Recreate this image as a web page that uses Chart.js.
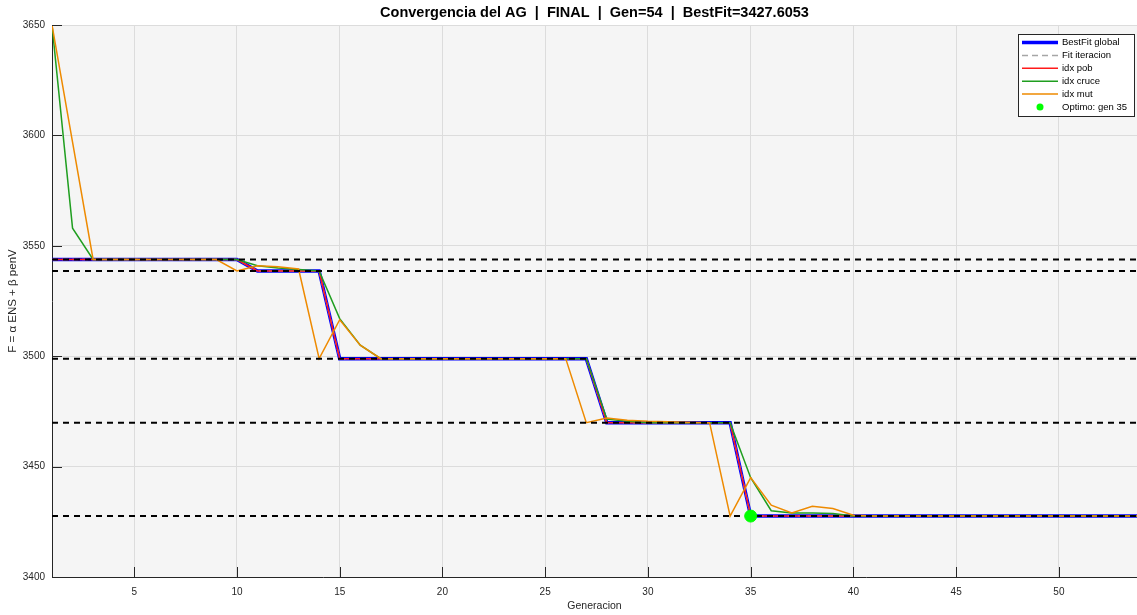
<!DOCTYPE html>
<html>
<head>
<meta charset="utf-8">
<script src="https://cdn.jsdelivr.net/npm/chart.js@4.4.0/dist/chart.umd.min.js"></script>
<style>
  html, body { margin: 0; padding: 0; background: #fff; }
</style>
</head>
<body>
<canvas id="myChart" width="1137" height="615"></canvas>
<script>
// generaciones del AG
const generaciones = [1, 2, 3, 4, 5, 6, 7, 8, 9, 10, 11, 12, 13, 14, 15, 16, 17, 18, 19, 20,
  21, 22, 23, 24, 25, 26, 27, 28, 29, 30, 31, 32, 33, 34, 35, 36, 37, 38, 39, 40,
  41, 42, 43, 44, 45, 46, 47, 48, 49, 50, 51, 52, 53, 54];

const bestFitGlobal = [3543.8, 3543.8, 3543.8, 3543.8, 3543.8, 3543.8, 3543.8, 3543.8, 3543.8, 3543.8,
  3538.6, 3538.6, 3538.6, 3538.6,
  3498.9, 3498.9, 3498.9, 3498.9, 3498.9, 3498.9, 3498.9, 3498.9, 3498.9, 3498.9, 3498.9, 3498.9, 3498.9,
  3469.9, 3469.9, 3469.9, 3469.9, 3469.9, 3469.9, 3469.9,
  3427.6053, 3427.6053, 3427.6053, 3427.6053, 3427.6053, 3427.6053, 3427.6053, 3427.6053, 3427.6053, 3427.6053,
  3427.6053, 3427.6053, 3427.6053, 3427.6053, 3427.6053, 3427.6053, 3427.6053, 3427.6053, 3427.6053, 3427.6053];

const fitIteracion = [3543.8, 3543.8, 3543.8, 3543.8, 3543.8, 3543.8, 3543.8, 3543.8, 3543.8, 3543.8,
  3538.6, 3538.6, 3538.6, 3538.6,
  3498.9, 3498.9, 3498.9, 3498.9, 3498.9, 3498.9, 3498.9, 3498.9, 3498.9, 3498.9, 3498.9, 3498.9, 3498.9,
  3469.9, 3469.9, 3469.9, 3469.9, 3469.9, 3469.9, 3469.9,
  3427.6053, 3427.6053, 3427.6053, 3427.6053, 3427.6053, 3427.6053, 3427.6053, 3427.6053, 3427.6053, 3427.6053,
  3427.6053, 3427.6053, 3427.6053, 3427.6053, 3427.6053, 3427.6053, 3427.6053, 3427.6053, 3427.6053, 3427.6053];

const idxPob = [3543.8, 3543.8, 3543.8, 3543.8, 3543.8, 3543.8, 3543.8, 3543.8, 3543.8, 3543.8,
  3538.6, 3538.6, 3538.6, 3538.6,
  3498.9, 3498.9, 3498.9, 3498.9, 3498.9, 3498.9, 3498.9, 3498.9, 3498.9, 3498.9, 3498.9, 3498.9, 3498.9,
  3469.9, 3469.9, 3469.9, 3469.9, 3469.9, 3469.9, 3469.9,
  3427.6053, 3427.6053, 3427.6053, 3427.6053, 3427.6053, 3427.6053, 3427.6053, 3427.6053, 3427.6053, 3427.6053,
  3427.6053, 3427.6053, 3427.6053, 3427.6053, 3427.6053, 3427.6053, 3427.6053, 3427.6053, 3427.6053, 3427.6053];

const idxCruce = [3650, 3558, 3543.8, 3543.8, 3543.8, 3543.8, 3543.8, 3543.8, 3543.8, 3543.8,
  3541, 3540, 3539.3, 3538.6,
  3517, 3505, 3498.9, 3498.9, 3498.9, 3498.9, 3498.9, 3498.9, 3498.9, 3498.9, 3498.9, 3498.9, 3498.9,
  3471.5, 3470.5, 3469.9, 3469.9, 3469.9, 3469.9, 3469.9,
  3445, 3430, 3429, 3429, 3428.8, 3427.6053,
  3427.6053, 3427.6053, 3427.6053, 3427.6053, 3427.6053, 3427.6053, 3427.6053, 3427.6053, 3427.6053, 3427.6053,
  3427.6053, 3427.6053, 3427.6053, 3427.6053];

const idxMut = [3650, 3597, 3543.8, 3543.8, 3543.8, 3543.8, 3543.8, 3543.8, 3543.8, 3538.6,
  3541, 3540.5, 3539.5, 3498.9,
  3516.5, 3505, 3498.9, 3498.9, 3498.9, 3498.9, 3498.9, 3498.9, 3498.9, 3498.9, 3498.9, 3498.9,
  3469.9, 3472, 3471, 3470.5, 3470.3, 3470.1, 3469.9, 3427.6053,
  3445, 3432.5, 3429, 3432, 3431, 3428,
  3427.6053, 3427.6053, 3427.6053, 3427.6053, 3427.6053, 3427.6053, 3427.6053, 3427.6053, 3427.6053, 3427.6053,
  3427.6053, 3427.6053, 3427.6053, 3427.6053];

// mejores valores distintos (lineas horizontales)
const nivelesBest = [3543.8, 3538.6, 3498.9, 3469.9, 3427.6053];
const optimoGen = 35;
const optimoFit = 3427.6053;

const xTicks = [5, 10, 15, 20, 25, 30, 35, 40, 45, 50];
const yTicks = [3400, 3450, 3500, 3550, 3600, 3650];

const FONT = '"Liberation Sans", Arial, Helvetica, sans-serif';

const datasets = [
  { label: 'BestFit global', data: bestFitGlobal, borderColor: '#0000ff', borderWidth: 3.5, order: 8 },
  { label: 'Fit iteracion', data: fitIteracion, borderColor: '#a6a6a6', borderWidth: 1.5, borderDash: [6, 4], order: 7 },
  { label: 'idx pob', data: idxPob, borderColor: '#ff1a1a', borderWidth: 1.5, order: 6 },
  { label: 'idx cruce', data: idxCruce, borderColor: '#1f9e1f', borderWidth: 1.5, order: 5 },
  { label: 'idx mut', data: idxMut, borderColor: '#ee8a00', borderWidth: 1.5, order: 4 }
];
nivelesBest.forEach(function (v) {
  datasets.push({
    data: [{ x: generaciones[0], y: v }, { x: generaciones[generaciones.length - 1], y: v }],
    borderColor: '#000', borderWidth: 2, borderDash: [6, 5], order: 2
  });
});
datasets.push({
  label: 'Optimo: gen ' + optimoGen, data: [{ x: optimoGen, y: optimoFit }],
  showLine: false, pointRadius: 6, pointBackgroundColor: '#00ff00', pointBorderColor: '#00ff00',
  borderColor: '#00ff00', order: 1, isPoint: true
});
datasets.forEach(function (d) {
  if (!d.isPoint) { d.pointRadius = 0; d.fill = false; d.tension = 0; }
});

// fondo gris, ticks hacia dentro y leyenda con caja
const matlabPlugin = {
  id: 'matlabStyle',
  beforeDraw(chart) {
    const a = chart.chartArea, ctx = chart.ctx;
    ctx.save();
    ctx.fillStyle = '#f5f5f5';
    ctx.fillRect(a.left, a.top, a.right - a.left, a.bottom - a.top);
    ctx.restore();
  },
  afterDraw(chart) {
    const a = chart.chartArea, ctx = chart.ctx;
    ctx.save();
    ctx.strokeStyle = '#262626';
    ctx.lineWidth = 1;
    chart.scales.x.ticks.forEach(function (t) {
      const px = Math.round(chart.scales.x.getPixelForValue(t.value)) + 0.5;
      ctx.beginPath(); ctx.moveTo(px, a.bottom); ctx.lineTo(px, a.bottom - 10); ctx.stroke();
    });
    chart.scales.y.ticks.forEach(function (t) {
      const py = Math.round(chart.scales.y.getPixelForValue(t.value)) + 0.5;
      ctx.beginPath(); ctx.moveTo(a.left, py); ctx.lineTo(a.left + 10, py); ctx.stroke();
    });

    // leyenda
    const items = chart.data.datasets.filter(function (d) { return d.label; });
    const x0 = 1018, y0 = 34, w = 116, h = 82;
    ctx.fillStyle = '#fff';
    ctx.fillRect(x0, y0, w, h);
    ctx.strokeStyle = '#262626';
    ctx.strokeRect(x0 + 0.5, y0 + 0.5, w, h);
    ctx.font = '9.5px ' + FONT;
    ctx.textBaseline = 'middle';
    items.forEach(function (d, i) {
      const y = y0 + 8.5 + i * 12.9;
      if (d.isPoint) {
        ctx.fillStyle = d.pointBackgroundColor;
        ctx.beginPath(); ctx.arc(x0 + 22, y, 3.5, 0, Math.PI * 2); ctx.fill();
      } else {
        ctx.strokeStyle = d.borderColor;
        ctx.lineWidth = d.borderWidth;
        ctx.setLineDash(d.borderDash || []);
        ctx.beginPath(); ctx.moveTo(x0 + 4, y); ctx.lineTo(x0 + 40, y); ctx.stroke();
        ctx.setLineDash([]);
      }
      ctx.fillStyle = '#000';
      ctx.fillText(d.label, x0 + 44, y);
    });
    ctx.restore();
  }
};

const config = {
  type: 'line',
  data: { labels: generaciones, datasets: datasets },
  options: {
    responsive: false,
    animation: false,
    layout: { padding: 0, autoPadding: false },
    plugins: {
      legend: { display: false },
      tooltip: { enabled: false },
      title: {
        display: true,
        fullSize: false,
        text: 'Convergencia del AG  |  FINAL  |  Gen=54  |  BestFit=3427.6053',
        color: '#000',
        font: { family: FONT, size: 14.5, weight: 'bold', lineHeight: 1.2 },
        padding: { top: 4, bottom: 3.6 }
      }
    },
    scales: {
      x: {
        type: 'linear',
        min: 1,
        max: 53.8,  // el eje de la figura original continua un poco fuera del recorte
        afterBuildTicks: function (s) { s.ticks = xTicks.map(function (v) { return { value: v }; }); },
        afterFit: function (s) { s.height = 38; },
        grid: { color: '#dcdcdc', drawTicks: false },
        border: { display: true, color: '#262626', width: 1 },
        ticks: { color: '#262626', padding: 9, maxRotation: 0, autoSkip: false, font: { family: FONT, size: 10 } },
        title: { display: true, text: 'Generacion', color: '#262626', font: { family: FONT, size: 10.5 }, padding: { top: 0, bottom: 3 } }
      },
      y: {
        min: 3400,
        max: 3650,
        afterBuildTicks: function (s) { s.ticks = yTicks.map(function (v) { return { value: v }; }); },
        afterFit: function (s) { s.width = 52; },
        grid: { color: '#dcdcdc', drawTicks: false },
        border: { display: true, color: '#262626', width: 1 },
        ticks: {
          color: '#262626', padding: 7, font: { family: FONT, size: 10 },
          callback: function (v) { return String(v); }
        },
        title: { display: true, text: 'F = α ENS + β penV', color: '#262626', font: { family: FONT, size: 11.5 }, padding: { top: 6, bottom: 0 } }
      }
    }
  },
  plugins: [matlabPlugin]
};

var myChart = new Chart(document.getElementById('myChart'), config);
</script>
</body>
</html>
